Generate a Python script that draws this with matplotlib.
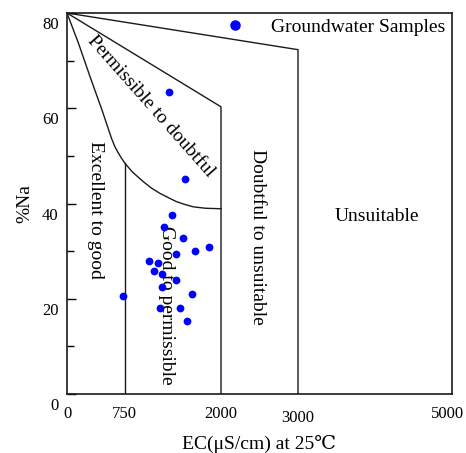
import matplotlib
matplotlib.use("Agg")
import matplotlib.pyplot as plt
from matplotlib.transforms import ScaledTranslation

plt.rcParams['font.family'] = ['Liberation Serif', 'DejaVu Serif', 'Noto Sans CJK SC']
plt.rcParams['mathtext.fontset'] = 'stix'

# Groundwater samples (EC in uS/cm, %Na)
ec_samples = [1329, 1537, 1364, 1264, 1511, 1840, 1667, 1420, 1069, 1186,
              1130, 1230, 1411, 1238, 723, 1623, 1472, 1212, 1558]
na_samples = [63.5, 45.2, 37.6, 35.0, 32.7, 30.9, 30.0, 29.4, 27.9, 27.5,
              25.9, 25.2, 23.9, 22.4, 20.6, 20.9, 18.0, 18.0, 15.4]

# Wilcox boundary lines
curve_ec = [0, 150, 300, 455, 530, 580, 620, 660, 700, 750, 850, 990, 1100,
            1210, 1320, 1420, 1530, 1640, 1800, 2000]
curve_na = [80, 73.6, 66.6, 59.6, 56.0, 53.6, 52.0, 50.8, 49.7, 48.5, 46.6,
            44.6, 43.2, 42.1, 41.2, 40.4, 39.8, 39.3, 39.0, 38.9]
line2_ec = [0, 2000, 2000]
line2_na = [80, 60.3, 0]
line3_ec = [0, 3000, 3000]
line3_na = [80, 72.3, 0]
line750_ec = [750, 750]
line750_na = [48.5, 0]

xticks = [0, 750, 2000, 3000, 5000]
yticks = [0, 20, 40, 60, 80]
yminor = [10, 30, 50, 70]

fig = plt.figure(figsize=(4.66, 4.53), dpi=100)
ax = fig.add_axes([67/466, 1-394/453, (452-67)/466, (394-13)/453])

lc = '#1a1a1a'
ax.plot(curve_ec, curve_na, color=lc, lw=1.0, solid_joinstyle='round')
ax.plot(line2_ec, line2_na, color=lc, lw=1.0)
ax.plot(line3_ec, line3_na, color=lc, lw=1.0)
ax.plot(line750_ec, line750_na, color=lc, lw=1.0)

ax.plot(ec_samples, na_samples, 'o', color='#0000ff', ms=5.6, mec='none',
        label='Groundwater Samples', zorder=5)

leg = ax.legend(loc='center left', bbox_to_anchor=(0.411, 0.964), frameon=False,
                fontsize=14, markerscale=1.35, handlelength=1.0, handletextpad=1.35,
                borderpad=0, borderaxespad=0)

fs = 14
ax.text(1085, 60.5, 'Permissible to doubtful', rotation=-48.5, fontsize=fs,
        ha='center', va='center', rotation_mode='anchor')
ax.text(364, 38.6, 'Excellent to good', rotation=270, fontsize=fs,
        ha='center', va='center')
ax.text(1286, 18.7, 'Good to permissible', rotation=270, fontsize=fs,
        ha='center', va='center')
ax.text(2468, 33.0, 'Doubtful to unsuitable', rotation=270, fontsize=fs,
        ha='center', va='center')
ax.text(4026, 37.2, 'Unsuitable', fontsize=fs, ha='center', va='center')

ax.set_xlim(0, 5000)
ax.set_ylim(0, 80)
ax.set_xticks(xticks)
ax.set_xticklabels([str(v) for v in xticks])
ax.set_yticks(yticks)
ax.set_yticks(yminor, minor=True)
ax.set_yticklabels([str(v) for v in yticks])
ax.tick_params(axis='x', length=0, pad=9, labelsize=12)
ax.tick_params(axis='y', which='major', direction='in', length=6.5, width=1.0,
               pad=6, labelsize=12)
ax.tick_params(axis='y', which='minor', direction='in', length=5, width=1.0)
for sp in ax.spines.values():
    sp.set_linewidth(1.2)
    sp.set_color(lc)

# shift y tick labels down like the reference
off = ScaledTranslation(0, -10/100, fig.dpi_scale_trans)
for lab in ax.get_yticklabels():
    lab.set_transform(lab.get_transform() + off)
xl = ax.get_xticklabels()
xl[3].set_transform(xl[3].get_transform() + ScaledTranslation(0, -3/100, fig.dpi_scale_trans))
xl[4].set_transform(xl[4].get_transform() + ScaledTranslation(-5/100, 0, fig.dpi_scale_trans))

ax.set_xlabel('EC(μS/cm) at 25℃', fontsize=14, labelpad=7)
ax.set_ylabel('%Na', fontsize=14, labelpad=6)

fig.savefig('out.png', dpi=100)
